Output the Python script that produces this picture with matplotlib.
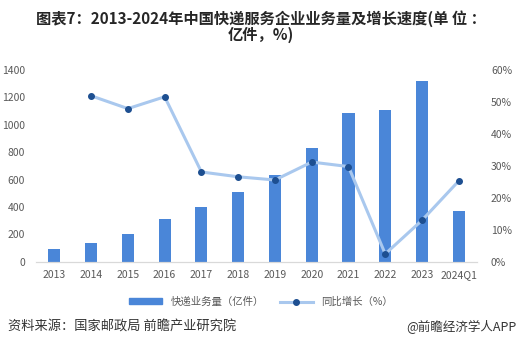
import matplotlib
matplotlib.use('Agg')

import matplotlib.pyplot as plt
from matplotlib.lines import Line2D
from matplotlib.patches import Patch
import numpy as np

plt.rcParams['font.family'] = ['Noto Sans CJK SC', 'DejaVu Sans']

years = ["2013", "2014", "2015", "2016", "2017", "2018", "2019", "2020",
         "2021", "2022", "2023", "2024Q1"]
volume = [91.9, 139.6, 206.7, 312.8, 400.6, 507.1, 635.2, 833.6,
          1083.0, 1105.8, 1320.7, 373.0]
growth = [None, 51.9, 47.9, 51.6, 28.1, 26.6, 25.6, 31.2,
          29.8, 2.5, 13.0, 25.3]

bar_color = "#4a86d8"
line_color = "#a9c8ee"
dot_color = "#1d4f91"
tick_color = "#595959"

fig = plt.figure(figsize=(5.22, 3.53), dpi=100)
ax = fig.add_axes([0.069, 0.258, 0.845, 0.544])
ax2 = ax.twinx()

x = np.arange(len(years))
ax.bar(x, volume, width=0.33, color=bar_color, zorder=2)

gx = [i for i, g in enumerate(growth) if g is not None]
gy = [g for g in growth if g is not None]
ax2.plot(gx, gy, color=line_color, lw=2.2, zorder=3)
ax2.plot(gx, gy, 'o', color=dot_color, ms=4, zorder=4)

ax.set_xlim(-0.5, len(years) - 0.5)
ax.set_ylim(0, 1400)
ax.set_yticks(range(0, 1401, 200))
ax2.set_ylim(0, 60)
ax2.set_yticks(range(0, 61, 10))
ax2.set_yticklabels(["%d%%" % v for v in range(0, 61, 10)])
ax.set_xticks(x)
ax.set_xticklabels(years)

for a in (ax, ax2):
    for s in ("top", "left", "right"):
        a.spines[s].set_visible(False)
    a.spines["bottom"].set_color("#d9d9d9")
    a.tick_params(length=0, labelsize=7.5, colors=tick_color)
ax.tick_params(axis="y", pad=8)
ax2.tick_params(axis="y", pad=10)
ax.tick_params(axis="x", pad=6)

fig.text(0.5, 0.925, "图表7：2013-2024年中国快递服务企业业务量及增长速度(单 位 ：\n亿件，%)",
         ha="center", va="center", fontsize=11, fontweight="bold",
         color="#262626", linespacing=1.0)

handles = [Patch(color=bar_color),
           Line2D([0], [0], color=line_color, lw=2.2, marker='o',
                  markerfacecolor=dot_color, markeredgecolor=dot_color, ms=4)]
fig.legend(handles, ["快递业务量（亿件）", "同比增长（%）"], loc="center",
           bbox_to_anchor=(0.5, 0.145), ncol=2, frameon=False, fontsize=7.5,
           handlelength=3.2, handleheight=0.5, columnspacing=1.5,
           labelcolor=tick_color)

fig.text(0.015, 0.073, "资料来源：国家邮政局 前瞻产业研究院", fontsize=9.5,
         color="#333333", va="center")
fig.text(0.99, 0.073, "@前瞻经济学人APP", fontsize=9, color="#333333",
         va="center", ha="right")

plt.savefig("out.png", dpi=100)
